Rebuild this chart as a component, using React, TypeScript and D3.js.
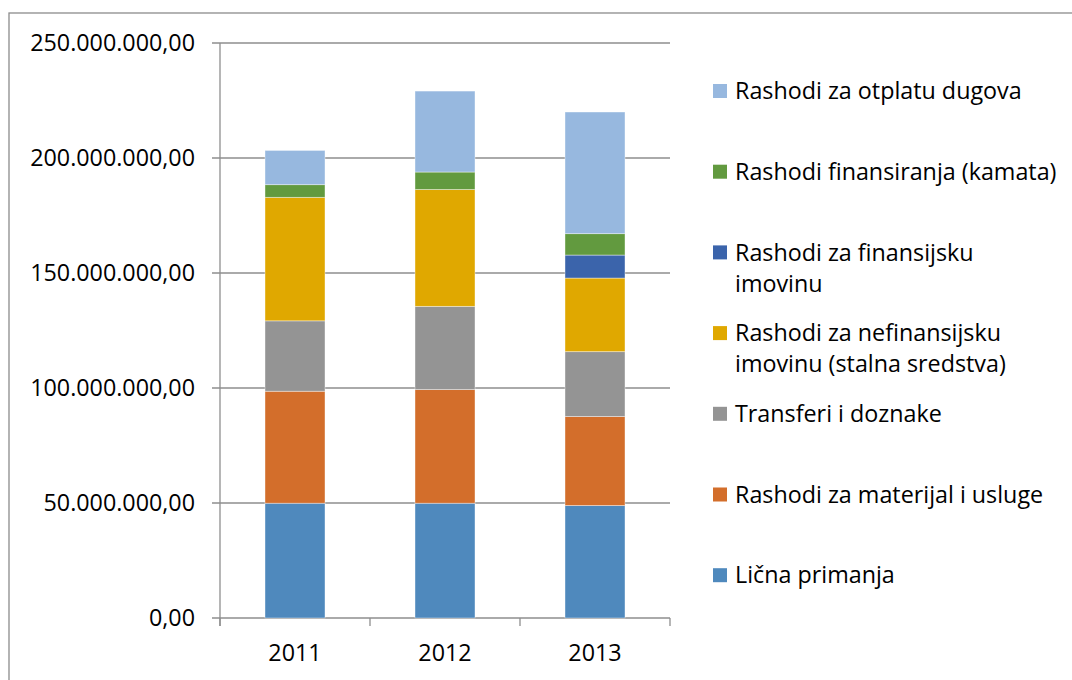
import React from "react";
import * as d3 from "d3";

const years = ["2011", "2012", "2013"];
const seriesNames = [
  "Lična primanja",
  "Rashodi za materijal i usluge",
  "Transferi i doznake",
  "Rashodi za nefinansijsku imovinu (stalna sredstva)",
  "Rashodi za finansijsku imovinu",
  "Rashodi finansiranja (kamata)",
  "Rashodi za otplatu dugova",
];
const licnaPrimanja = [49.9e6, 49.9e6, 48.9e6];
const materijal = [48.7e6, 49.4e6, 38.7e6];
const transferi = [30.6e6, 36.2e6, 28.2e6];
const nefinansijska = [53.7e6, 50.8e6, 32.0e6];
const finansijska = [0, 0, 10.0e6];
const kamata = [5.5e6, 7.6e6, 9.3e6];
const otplata = [14.9e6, 35.2e6, 52.9e6];
const seriesValues = [licnaPrimanja, materijal, transferi, nefinansijska, finansijska, kamata, otplata];
const colors = ["#4F89BD", "#D36E2B", "#949494", "#E0A800", "#3B64AB", "#629A3F", "#97B8DF"];
const yTicks = [0, 50e6, 100e6, 150e6, 200e6, 250e6];
const legendLines = [
  ["Rashodi za otplatu dugova"],
  ["Rashodi finansiranja (kamata)"],
  ["Rashodi za finansijsku", "imovinu"],
  ["Rashodi za nefinansijsku", "imovinu (stalna sredstva)"],
  ["Transferi i doznake"],
  ["Rashodi za materijal i usluge"],
  ["Lična primanja"],
];

const W = 1072;
const H = 680;
const plot = { left: 220, right: 670, top: 43, bottom: 618 };
const FONT = "'Open Sans', 'Noto Sans', sans-serif";
const FS = 23.3;

const fmt = (v: number) => {
  const s = d3.format(",.2f")(v);
  return s.replace(/,/g, "X").replace(/\./g, ",").replace(/X/g, ".");
};

export default function App() {
  const x = d3.scaleBand<string>().domain(years).range([plot.left, plot.right]).paddingInner(0.6).paddingOuter(0.3);
  const y = d3.scaleLinear().domain([0, 250e6]).range([plot.bottom, plot.top]);
  const table = years.map((yr, i) => {
    const row: any = { year: yr };
    seriesNames.forEach((n, k) => (row[n] = seriesValues[k][i]));
    return row;
  });
  const stacked = d3.stack<any>().keys(seriesNames)(table);
  const band = (plot.right - plot.left) / years.length;
  const gridColor = "#8E8E8E";
  const legendX = 713;
  const legendY0 = 91;
  const legendStep = 80.7;

  return (
    <svg width={W} height={H} style={{ position: "absolute", left: 0, top: 0, background: "#fff" }} fontFamily={FONT}>
      <rect x={9} y={13} width={W + 20} height={H + 20} fill="#fff" stroke="#8C8C8C" strokeWidth={1.3} />
      {yTicks.map((t) => (
        <g key={t}>
          <line x1={212} x2={plot.right} y1={y(t)} y2={y(t)} stroke={gridColor} strokeWidth={1.3} />
          <text x={195} y={y(t)} dy="0.35em" textAnchor="end" fontSize={FS} fill="#000">
            {fmt(t)}
          </text>
        </g>
      ))}
      <line x1={plot.left} x2={plot.left} y1={plot.top} y2={plot.bottom + 8} stroke={gridColor} strokeWidth={1.3} />
      {d3.range(years.length + 1).map((i) => (
        <line key={i} x1={plot.left + i * band} x2={plot.left + i * band} y1={plot.bottom} y2={plot.bottom + 8} stroke={gridColor} strokeWidth={1.3} />
      ))}
      {stacked.map((s, k) => (
        <g key={s.key} fill={colors[k]}>
          {s.map((d, i) =>
            d[1] - d[0] > 0 ? (
              <rect key={i} x={x(years[i])} width={x.bandwidth()} y={y(d[1])} height={y(d[0]) - y(d[1])} stroke="#fff" strokeOpacity={0.5} strokeWidth={0.8} />
            ) : null
          )}
        </g>
      ))}
      {years.map((yr) => (
        <text key={yr} x={(x(yr) as number) + x.bandwidth() / 2} y={661} textAnchor="middle" fontSize={FS} fill="#000">
          {yr}
        </text>
      ))}
      {legendLines.map((lines, i) => {
        const cy = legendY0 + i * legendStep;
        const k = seriesNames.length - 1 - i;
        return (
          <g key={i}>
            <rect x={legendX} y={cy - 7} width={14} height={14} fill={colors[k]} />
            {lines.map((ln, j) => (
              <text key={j} x={735} y={cy + j * 31} dy="0.35em" fontSize={FS} fill="#000">
                {ln}
              </text>
            ))}
          </g>
        );
      })}
    </svg>
  );
}
